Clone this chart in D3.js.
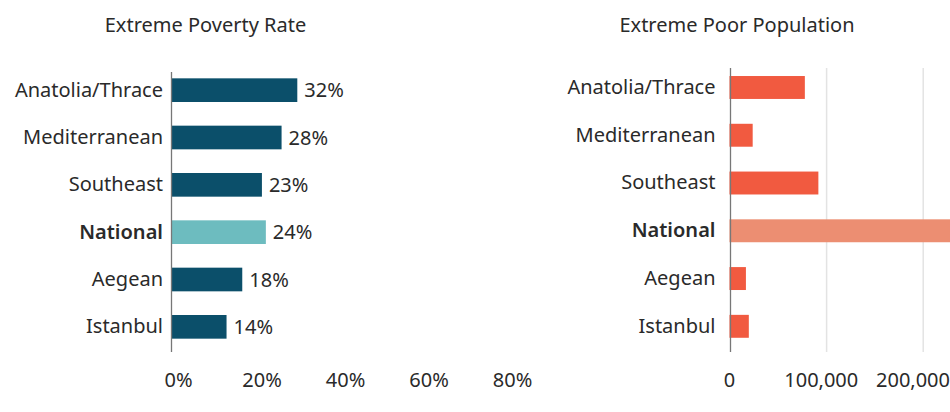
<!DOCTYPE html>
<html>
<head>
<meta charset="utf-8">
<script src="https://cdn.jsdelivr.net/npm/d3@7"></script>
<style>
  html, body { margin: 0; padding: 0; background: #fff; }
  svg { display: block; font-family: "Noto Sans", sans-serif; }
</style>
</head>
<body>
<svg id="chart" width="950" height="412"></svg>
<script>
// ===========
// DATA
// ===========

const regions = ["Anatolia/Thrace", "Mediterranean", "Southeast", "National", "Aegean", "Istanbul"];
const povertyRate = [0.32, 0.28, 0.23, 0.24, 0.18, 0.14];
const poorPopulation = [78000, 24000, 92000, 235000, 17000, 20000];
const rateTicks = [0, 0.2, 0.4, 0.6, 0.8];
const popTicks = [0, 100000, 200000];
const titles = ["Extreme Poverty Rate", "Extreme Poor Population"];

const textColor = "#2a2a2a";

const svg = d3.select("#chart");

// ============
// LEFT PANEL - poverty rate
// ============

// bars and tick labels sit on slightly different scales in the original
var xRate = d3.scaleLinear().domain([0, 0.8]).range([171.5, 486]);
var xRateLabels = d3.scaleLinear().domain([0, 0.8]).range([178, 512]);

var yLeft = d3.scaleBand()
	.domain(regions)
	.range([66.5, 350.5])
	.paddingInner(0.5)
	.paddingOuter(0.25);

svg.append("text")
	.attr("x", 205.5)
	.attr("y", 32)
	.attr("text-anchor", "middle")
	.attr("font-size", 20)
	.attr("fill", textColor)
	.text(titles[0]);

svg.append("g")
	.selectAll("rect")
	.data(regions)
	.enter()
	.append("rect")
		.attr("x", xRate(0))
		.attr("y", function(d) { return yLeft(d); })
		.attr("width", function(d, i) { return xRate(povertyRate[i]) - xRate(0); })
		.attr("height", yLeft.bandwidth())
		.attr("fill", function(d) { return d === "National" ? "#6dbcbf" : "#0b4f6a"; });

// value labels
svg.append("g")
	.selectAll("text")
	.data(regions)
	.enter()
	.append("text")
		.attr("x", function(d, i) { return xRate(povertyRate[i]) + 7; })
		.attr("y", function(d) { return yLeft(d) + yLeft.bandwidth() / 2; })
		.attr("dy", "0.36em")
		.attr("font-size", 20)
		.attr("fill", textColor)
		.text(function(d, i) { return d3.format(".0%")(povertyRate[i]); });

// category axis
var leftCats = svg.append("g")
	.attr("transform", "translate(" + xRate(0) + ",0)")
	.call(d3.axisLeft(yLeft).tickSize(0).tickPadding(8.5));
leftCats.select(".domain").remove();
leftCats.selectAll("text")
	.attr("font-size", 20)
	.attr("font-family", "Noto Sans")
	.attr("fill", textColor)
	.attr("font-weight", function(d) { return d === "National" ? 600 : 400; });

svg.append("line")
	.attr("x1", xRate(0)).attr("x2", xRate(0))
	.attr("y1", 72).attr("y2", 352)
	.attr("stroke", "#777")
	.attr("stroke-width", 1.3);

// x tick labels
var leftX = svg.append("g")
	.attr("transform", "translate(0,364)")
	.call(d3.axisBottom(xRateLabels).tickValues(rateTicks).tickFormat(d3.format(".0%")).tickSize(0).tickPadding(9));
leftX.select(".domain").remove();
leftX.selectAll("text")
	.attr("font-size", 20)
	.attr("font-family", "Noto Sans")
	.attr("fill", textColor);

// ============
// RIGHT PANEL - poor population
// ============

var xPop = d3.scaleLinear().domain([0, 200000]).range([729.5, 922.7]);
var xPopLabels = d3.scaleLinear().domain([0, 200000]).range([729, 912.5]);

var yRight = d3.scaleBand()
	.domain(regions)
	.range([63.6, 350.2])
	.paddingInner(0.52)
	.paddingOuter(0.26);

svg.append("text")
	.attr("x", 737)
	.attr("y", 31.5)
	.attr("text-anchor", "middle")
	.attr("font-size", 20)
	.attr("fill", textColor)
	.text(titles[1]);

// gridlines
var grid = svg.append("g")
	.attr("transform", "translate(0,352)")
	.call(d3.axisBottom(xPop).tickValues(popTicks.slice(1)).tickSize(-284).tickFormat(""));
grid.select(".domain").remove();
grid.selectAll("line")
	.attr("stroke", "#e3e3e3")
	.attr("stroke-width", 1.5);

svg.append("g")
	.selectAll("rect")
	.data(regions)
	.enter()
	.append("rect")
		.attr("x", xPop(0))
		.attr("y", function(d) { return yRight(d); })
		.attr("width", function(d, i) { return xPop(poorPopulation[i]) - xPop(0); })
		.attr("height", yRight.bandwidth())
		.attr("fill", function(d) { return d === "National" ? "#ec8e72" : "#f15a40"; });

var rightCats = svg.append("g")
	.attr("transform", "translate(" + xPop(0) + ",0)")
	.call(d3.axisLeft(yRight).tickSize(0).tickPadding(14));
rightCats.select(".domain").remove();
rightCats.selectAll("text")
	.attr("font-size", 20)
	.attr("font-family", "Noto Sans")
	.attr("fill", textColor)
	.attr("font-weight", function(d) { return d === "National" ? 600 : 400; });

svg.append("line")
	.attr("x1", xPop(0) + 1).attr("x2", xPop(0) + 1)
	.attr("y1", 68).attr("y2", 352)
	.attr("stroke", "#777")
	.attr("stroke-width", 1.3);

var rightX = svg.append("g")
	.attr("transform", "translate(0,364)")
	.call(d3.axisBottom(xPopLabels).tickValues(popTicks).tickFormat(d3.format(",")).tickSize(0).tickPadding(9));
rightX.select(".domain").remove();
rightX.selectAll("text")
	.attr("font-size", 20)
	.attr("font-family", "Noto Sans")
	.attr("fill", textColor);
</script>
</body>
</html>
